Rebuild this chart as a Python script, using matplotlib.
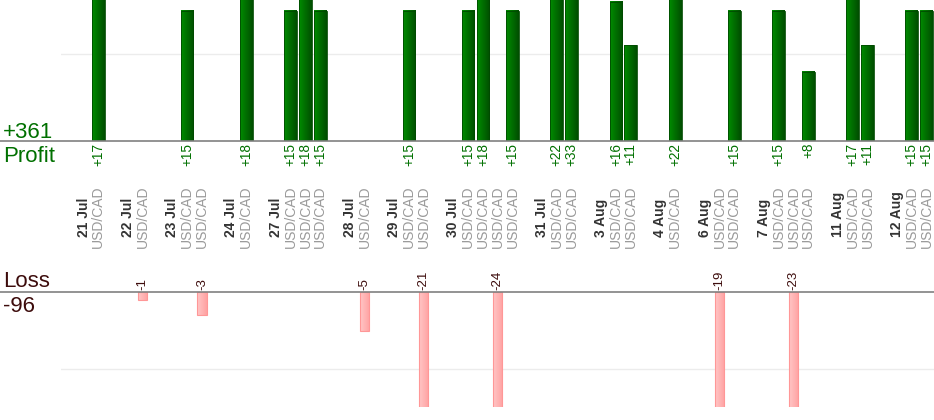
import numpy as np
import matplotlib.pyplot as plt
import matplotlib.transforms as mtrans
from matplotlib.colors import LinearSegmentedColormap

plt.rcParams['font.family'] = ['Liberation Sans', 'DejaVu Sans']

# trading days and the result (pips) of each trade on that day
dates = ['21 Jul', '22 Jul', '23 Jul', '24 Jul', '27 Jul', '28 Jul', '29 Jul',
         '30 Jul', '31 Jul', '3 Aug', '4 Aug', '6 Aug', '7 Aug', '11 Aug', '12 Aug']
trade_results = [[17], [-1], [15, -3], [18], [15, 18, 15], [-5], [15, -21],
                 [15, 18, -24, 15], [22, 33], [16, 11], [22], [-19, 15],
                 [15, -23, 8], [17, 11], [15, 15]]
symbol = 'USD/CAD'

green = '#007000'
maroon = '#3d0c0c'

# slots: a leading gap, then per day: date slot, one slot per trade, gap
date_slots, trade_slots, trade_values = [], [], []
slot = 1
for day, res in zip(dates, trade_results):
    date_slots.append(slot)
    for v in res:
        slot += 1
        trade_slots.append(slot)
        trade_values.append(v)
    slot += 2
n_slots = slot - 1

trade_slots = np.array(trade_slots)
trade_values = np.array(trade_values)
win = trade_values > 0
total_profit = trade_values[win].sum()
total_loss = trade_values[~win].sum()

W, H = 934, 420
left = 61.4
base_p, base_l, bottom_l = 141.3, 292.3, 407.0
px_per_pip_p, px_per_pip_l = 8.72, 7.68


def fy(py):
    return 1 - py / H


fig = plt.figure(figsize=(W / 100, H / 100), dpi=100)
ax_p = fig.add_axes([left / W, fy(base_p), 1 - left / W, base_p / H])
ax_l = fig.add_axes([left / W, fy(bottom_l), 1 - left / W, (bottom_l - base_l) / H])


def gradient_bars(ax, bars, c0, c1):
    cmap = LinearSegmentedColormap.from_list('grad', [c0, c1])
    grad = np.linspace(0, 1, 32).reshape(1, -1)
    for b in bars:
        x0, y0 = b.get_xy()
        w, h = b.get_width(), b.get_height()
        im = ax.imshow(grad, cmap=cmap, aspect='auto', interpolation='bilinear',
                       extent=[x0, x0 + w, y0, y0 + h], zorder=2.5)
        im.set_clip_path(b)
        im.set_clip_box(ax.bbox)
        b.set_facecolor('none')


bars_p = ax_p.bar(trade_slots[win], trade_values[win], width=0.86,
                  edgecolor='#004a00', linewidth=0.6, zorder=3)
gradient_bars(ax_p, bars_p, '#008c00', '#004e00')
bars_l = ax_l.bar(trade_slots[~win], trade_values[~win], width=0.64,
                  edgecolor='#ff9797', linewidth=0.8, zorder=3)
gradient_bars(ax_l, bars_l, '#ffc6c6', '#ffa2a2')

for ax in (ax_p, ax_l):
    ax.set_xlim(-0.5, n_slots - 0.5)
    ax.axis('off')
ax_p.set_ylim(0, base_p / px_per_pip_p)
ax_l.set_ylim(-(bottom_l - base_l) / px_per_pip_l, 0)

ext = -left / (W - left)
ax_p.axhline(10, color='#ececec', lw=1, zorder=0)
ax_l.axhline(-10, color='#ececec', lw=1, zorder=0)
ax_p.axhline(0, xmin=ext, xmax=1, color='#808080', lw=1.2, clip_on=False, zorder=4)
ax_l.axhline(0, xmin=ext, xmax=1, color='#808080', lw=1.2, clip_on=False, zorder=4)

tp = mtrans.blended_transform_factory(ax_p.transData, fig.transFigure)
tl = mtrans.blended_transform_factory(ax_l.transData, fig.transFigure)

for x, v in zip(trade_slots, trade_values):
    if v > 0:
        ax_p.text(x, fy(143), f'+{v}', rotation=90, ha='center', va='top',
                  color=green, fontsize=9.8, transform=tp)
    else:
        ax_l.text(x, fy(290.5), f'{v}', rotation=90, ha='center', va='bottom',
                  color=maroon, fontsize=9.5, transform=tl)
    ax_p.text(x, fy(248), symbol, rotation=90, ha='center', va='bottom',
              color='#9a9a9a', fontsize=10, transform=tp)

for x, day in zip(date_slots, dates):
    ax_p.text(x, fy(237), day, rotation=90, ha='center', va='bottom',
              color='#333333', fontsize=10, fontweight='bold', transform=tp)

fig.text(3 / W, fy(138), f'+{total_profit}', fontsize=16, color=green, va='baseline')
fig.text(3 / W, fy(161.5), 'Profit', fontsize=16, color=green, va='baseline')
fig.text(3 / W, fy(287), 'Loss', fontsize=16, color=maroon, va='baseline')
fig.text(3 / W, fy(312), f'{total_loss}', fontsize=16, color=maroon, va='baseline')

fig.savefig('out.png', dpi=100)
